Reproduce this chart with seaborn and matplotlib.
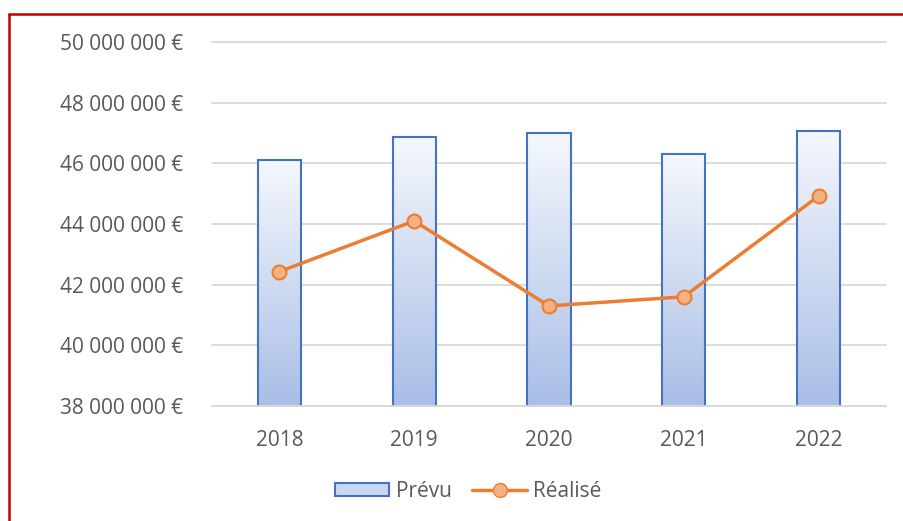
import numpy as np
import pandas as pd
import matplotlib
matplotlib.use("Agg")
import matplotlib.pyplot as plt
import seaborn as sns
from matplotlib.lines import Line2D
from matplotlib.patches import Patch
from matplotlib.colors import LinearSegmentedColormap

annees = ["2018", "2019", "2020", "2021", "2022"]
prevu = [46.1e6, 46.87e6, 47.0e6, 46.3e6, 47.07e6]
realise = [42.43e6, 44.1e6, 41.3e6, 41.6e6, 44.92e6]
y_ticks = [38e6, 40e6, 42e6, 44e6, 46e6, 48e6, 50e6]

sns.set_theme(style="white")
plt.rcParams["font.family"] = ["Open Sans", "DejaVu Sans"]

df = pd.DataFrame({"annee": annees, "prevu": prevu, "realise": realise})

fig = plt.figure(figsize=(9.04, 5.21), dpi=100)
ax = fig.add_axes([0.2345, 0.2207, 0.7455, 0.6987])

sns.barplot(data=df, x="annee", y="prevu", ax=ax, width=0.32,
            color="#B4C7E7", edgecolor="#4472C4", linewidth=1.5, zorder=2)

# dégradé blanc -> bleu pour chaque barre
cmap = LinearSegmentedColormap.from_list("grad", ["#F5F8FD", "#A9BEE6"])
grad = np.linspace(0, 1, 256).reshape(-1, 1)
for p in list(ax.patches):
    x0 = p.get_x()
    w = p.get_width()
    top = p.get_y() + p.get_height()
    p.set_facecolor("none")
    im = ax.imshow(grad, cmap=cmap, aspect="auto", origin="upper",
                   extent=(x0, x0 + w, 38e6, top), zorder=1.9)
    im.set_clip_path(p)
ax.set_xlim(-0.5, 4.5)
ax.set_ylim(38e6, 50e6)

sns.lineplot(data=df, x="annee", y="realise", ax=ax, color="#ED7D31",
             linewidth=2.5, marker="o", markersize=10,
             markerfacecolor="#F4B183", markeredgecolor="#ED7D31",
             markeredgewidth=1.5, zorder=3)

ax.set_yticks(y_ticks)
ax.set_yticklabels([f"{int(v):,} €".replace(",", " ") for v in y_ticks])
ax.yaxis.grid(True, color="#D9D9D9", linewidth=1.3, zorder=0)
for gl in ax.get_ygridlines():
    gl.set_clip_on(False)
ax.set_axisbelow(True)
for s in ["top", "right", "left"]:
    ax.spines[s].set_visible(False)
ax.spines["bottom"].set_color("#D9D9D9")
ax.spines["bottom"].set_linewidth(1.3)
ax.tick_params(axis="y", length=0, pad=21, labelsize=15, labelcolor="#595959")
ax.tick_params(axis="x", length=0, pad=17, labelsize=15, labelcolor="#595959")
ax.set_xlabel("")
ax.set_ylabel("")

handles = [Patch(facecolor="#C9D7F0", edgecolor="#4472C4", linewidth=1.5, label="Prévu"),
           Line2D([0], [0], color="#ED7D31", linewidth=2.5, marker="o", markersize=10,
                  markerfacecolor="#F4B183", markeredgecolor="#ED7D31", label="Réalisé")]
leg = fig.legend(handles=handles, loc="center", bbox_to_anchor=(0.518, 0.057), ncol=2,
                 frameon=False, fontsize=15, handlelength=2.6, handleheight=0.6,
                 columnspacing=1.0, handletextpad=0.3)
for t in leg.get_texts():
    t.set_color("#595959")

# cadre rouge
fig.add_artist(Line2D([9 / 904, 9 / 904], [0, 1 - 14 / 521], color="#C00000",
                      linewidth=1.8, transform=fig.transFigure))
fig.add_artist(Line2D([9 / 904, 1], [1 - 14 / 521, 1 - 14 / 521], color="#C00000",
                      linewidth=1.8, transform=fig.transFigure))

fig.savefig("out.png", dpi=100)
